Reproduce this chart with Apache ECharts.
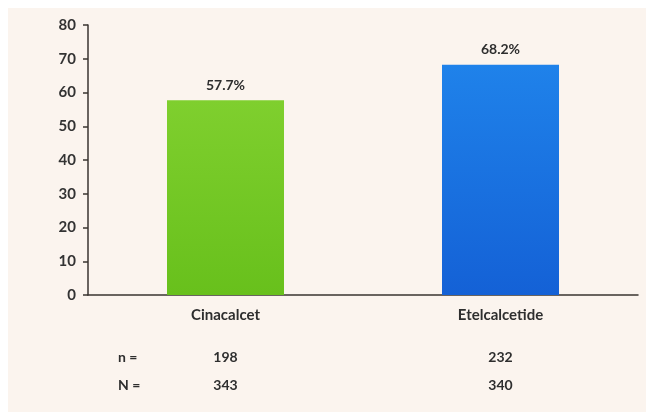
<!DOCTYPE html>
<html>
<head>
<meta charset="utf-8">
<script src="https://cdn.jsdelivr.net/npm/echarts@6/dist/echarts.min.js"></script>
<style>
  html, body { margin: 0; padding: 0; background: #ffffff; }
  #chart { width: 646px; height: 412px; }
</style>
</head>
<body>
<div id="chart"></div>
<script>
// Response rates by treatment arm
const categories = ['Cinacalcet', 'Etelcalcetide'];
const responseRates = [57.7, 68.2];
const respondersN = [198, 232];
const totalN = [343, 340];
const yTicks = [0, 10, 20, 30, 40, 50, 60, 70, 80];

const barColors = [
  ['#7fcf2e', '#68c01c'],
  ['#1f82ea', '#1461d6']
];

const FONT = 'Lato, "Open Sans", sans-serif';
const TEXT = '#2e2e2e';

const chart = echarts.init(document.getElementById('chart'), null, { renderer: 'canvas' });

// Category name, then the n and N counts underneath it
const rowLabels = categories.map((c, i) =>
  '{cat|' + c + '}\n{gap| }\n{num|' + respondersN[i] + '}\n{num|' + totalN[i] + '}'
);

chart.setOption({
  backgroundColor: '#ffffff',
  animation: false,
  textStyle: { fontFamily: FONT },
  graphic: [
    {
      type: 'rect',
      z: -10,
      shape: { x: 8, y: 8, width: 646, height: 412 },
      style: { fill: '#fbf4ee' }
    },
    {
      type: 'text',
      left: 118, top: 350,
      style: { text: 'n =', fontFamily: FONT, fontWeight: 'bold', fontSize: 14, fill: TEXT }
    },
    {
      type: 'text',
      left: 118, top: 378,
      style: { text: 'N =', fontFamily: FONT, fontWeight: 'bold', fontSize: 14, fill: TEXT }
    }
  ],
  grid: { left: 88, right: 8, top: 25, bottom: 117, containLabel: false },
  xAxis: {
    type: 'category',
    data: rowLabels,
    axisLine: { show: true, lineStyle: { color: '#3a3530', width: 1.5 } },
    axisTick: { show: false },
    axisLabel: {
      margin: 10,
      interval: 0,
      rich: {
        cat: { fontFamily: FONT, fontWeight: 'bold', fontSize: 15, color: TEXT, lineHeight: 20 },
        gap: { fontSize: 10, lineHeight: 18 },
        num: { fontFamily: FONT, fontWeight: 'bold', fontSize: 14, color: TEXT, lineHeight: 28 }
      }
    }
  },
  yAxis: {
    type: 'value',
    min: yTicks[0],
    max: yTicks[yTicks.length - 1],
    interval: 10,
    axisLine: { show: true, lineStyle: { color: '#3a3530', width: 1.5 } },
    axisTick: { show: true, inside: false, length: 5, lineStyle: { color: '#3a3530', width: 1.5 } },
    splitLine: { show: false },
    axisLabel: {
      margin: 12,
      fontFamily: FONT,
      fontWeight: 'bold',
      fontSize: 15,
      color: '#333333'
    }
  },
  series: [{
    type: 'bar',
    barWidth: 117,
    data: responseRates.map((v, i) => ({
      value: v,
      itemStyle: {
        color: new echarts.graphic.LinearGradient(0, 0, 0, 1, [
          { offset: 0, color: barColors[i][0] },
          { offset: 1, color: barColors[i][1] }
        ])
      }
    })),
    label: {
      show: true,
      position: 'top',
      distance: 8,
      formatter: p => p.value.toFixed(1) + '%',
      fontFamily: FONT,
      fontWeight: 'bold',
      fontSize: 14,
      color: TEXT
    }
  }]
});
</script>
</body>
</html>
